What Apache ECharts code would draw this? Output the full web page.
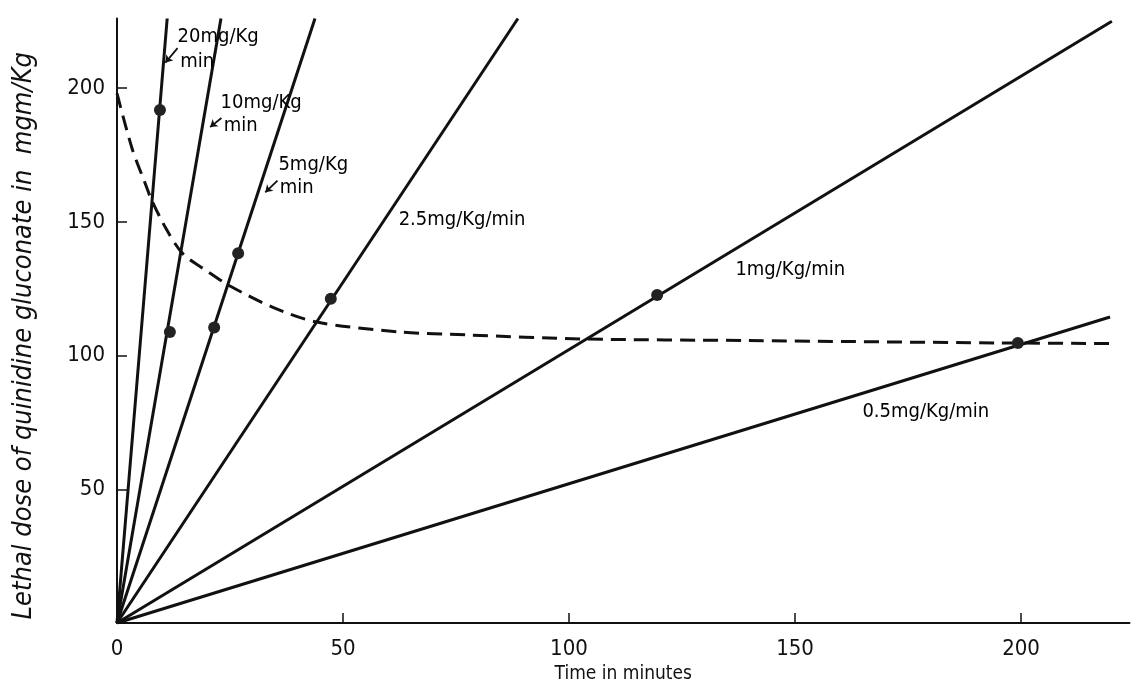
<!DOCTYPE html>
<html>
<head>
<meta charset="utf-8">
<script src="https://cdn.jsdelivr.net/npm/echarts@6/dist/echarts.min.js"></script>
<style>
html,body{margin:0;padding:0;background:#fff;}
#c{width:1136px;height:698px;}
</style>
</head>
<body>
<div id="c"></div>
<script>
// ---- data ----
const xTicks = [0, 50, 100, 150, 200];
const yTicks = [50, 100, 150, 200];

// dose-rate lines: start at origin, end where they leave the plot
const rateNames = ['20mg/Kg/min', '10mg/Kg/min', '5mg/Kg/min', '2.5mg/Kg/min', '1mg/Kg/min', '0.5mg/Kg/min'];
const rateEnds = [[11.1, 226], [23.0, 226], [43.8, 226], [88.7, 226], [220.1, 225], [219.7, 114.4]];

// observed lethal points (dots)
const dots = [[9.5, 191.8], [11.7, 108.8], [21.5, 110.5], [26.8, 138.2], [47.3, 121.2], [119.5, 122.6], [199.3, 104.7]];

// dashed lethal-dose curve
const curve = [[0, 198], [3.3, 177.6], [6.2, 164.5], [7.7, 158], [11, 147], [14.6, 138], [20, 131.5], [25, 126],
  [34.5, 118], [44.2, 112.5], [62.6, 108.8], [77.4, 107.7], [103.1, 106.2], [139.4, 105.6], [195.4, 104.7], [219.7, 104.5]];

// annotation texts and their anchor (data coords, text left edge)
const noteTexts = ['20mg/Kg', 'min', '10mg/Kg', 'min', '5mg/Kg', 'min', '2.5mg/Kg/min', '1mg/Kg/min', '0.5mg/Kg/min'];
const noteAnchors = [[13.3, 219], [13.9, 209.7], [22.8, 194.4], [23.5, 185.8], [35.6, 171.2], [35.9, 162.6], [62.2, 150.7], [136.7, 132], [164.8, 78.9]];
// small pointer arrows from "min" to the lines
const arrows = [[[13.4, 214.9], [10.7, 209.5]], [[23.1, 188.8], [20.6, 185.4]], [[35.5, 165.4], [32.8, 161.0]]];

const FONT = '"DejaVu Sans Condensed", "DejaVu Sans", sans-serif';
const INK = '#111111';

const series = [];
rateNames.forEach((n, i) => {
  series.push({
    name: n, type: 'line', data: [[0, 0], rateEnds[i]],
    showSymbol: false, lineStyle: {color: INK, width: 3}, z: 3, clip: true, silent: true
  });
});
series.push({
  name: 'curve', type: 'line', data: curve, smooth: 0.3, showSymbol: false,
  lineStyle: {color: INK, width: 3, type: [15, 8]}, z: 2, silent: true
});
series.push({
  name: 'dots', type: 'scatter', data: dots, symbolSize: 12,
  itemStyle: {color: '#222222', opacity: 1}, z: 5, silent: true
});
series.push({
  name: 'notes', type: 'scatter', symbolSize: 1, silent: true, z: 6,
  itemStyle: {color: 'rgba(0,0,0,0)'},
  data: noteAnchors.map((p, i) => ({value: p, name: noteTexts[i]})),
  label: {show: true, position: 'right', distance: 0, formatter: '{b}',
    fontFamily: FONT, fontSize: 20, color: '#000000', opacity: 1},
  markLine: {
    silent: true, symbol: ['none', 'arrow'], symbolSize: 7,
    lineStyle: {color: INK, width: 1.8, type: 'solid', curveness: 0.35, opacity: 1},
    label: {show: false},
    data: arrows.map(a => [{coord: a[0]}, {coord: a[1]}])
  }
});

const chart = echarts.init(document.getElementById('c'), null, {renderer: 'canvas'});
chart.setOption({
  backgroundColor: '#ffffff',
  animation: false,
  grid: {left: 117, right: 6.5, top: 18.5, bottom: 75, containLabel: false},
  xAxis: {
    type: 'value', min: 0, max: 224, interval: 50,
    name: 'Time in minutes', nameLocation: 'middle', nameGap: 33,
    nameTextStyle: {fontFamily: FONT, fontSize: 19, color: INK},
    axisLine: {show: true, lineStyle: {color: INK, width: 2}},
    axisTick: {show: true, inside: true, length: 10, lineStyle: {color: INK, width: 1.5}, customValues: [50, 100, 150, 200]},
    axisLabel: {customValues: xTicks, fontFamily: FONT, fontSize: 22, color: INK, margin: 15},
    splitLine: {show: false}
  },
  yAxis: {
    type: 'value', min: 0, max: 226, interval: 50,
    name: 'Lethal dose of quinidine gluconate in  mgm/Kg', nameLocation: 'middle', nameGap: 80, nameRotate: 90,
    nameTextStyle: {fontFamily: FONT, fontSize: 27, fontStyle: 'italic', color: INK, padding: [0, 30, 0, 0]},
    axisLine: {show: true, lineStyle: {color: INK, width: 2}},
    axisTick: {show: true, inside: true, length: 10, lineStyle: {color: INK, width: 1.5}, customValues: yTicks},
    axisLabel: {customValues: yTicks, fontFamily: FONT, fontSize: 22, color: INK, margin: 12},
    splitLine: {show: false}
  },
  series: series
});
</script>
</body>
</html>
